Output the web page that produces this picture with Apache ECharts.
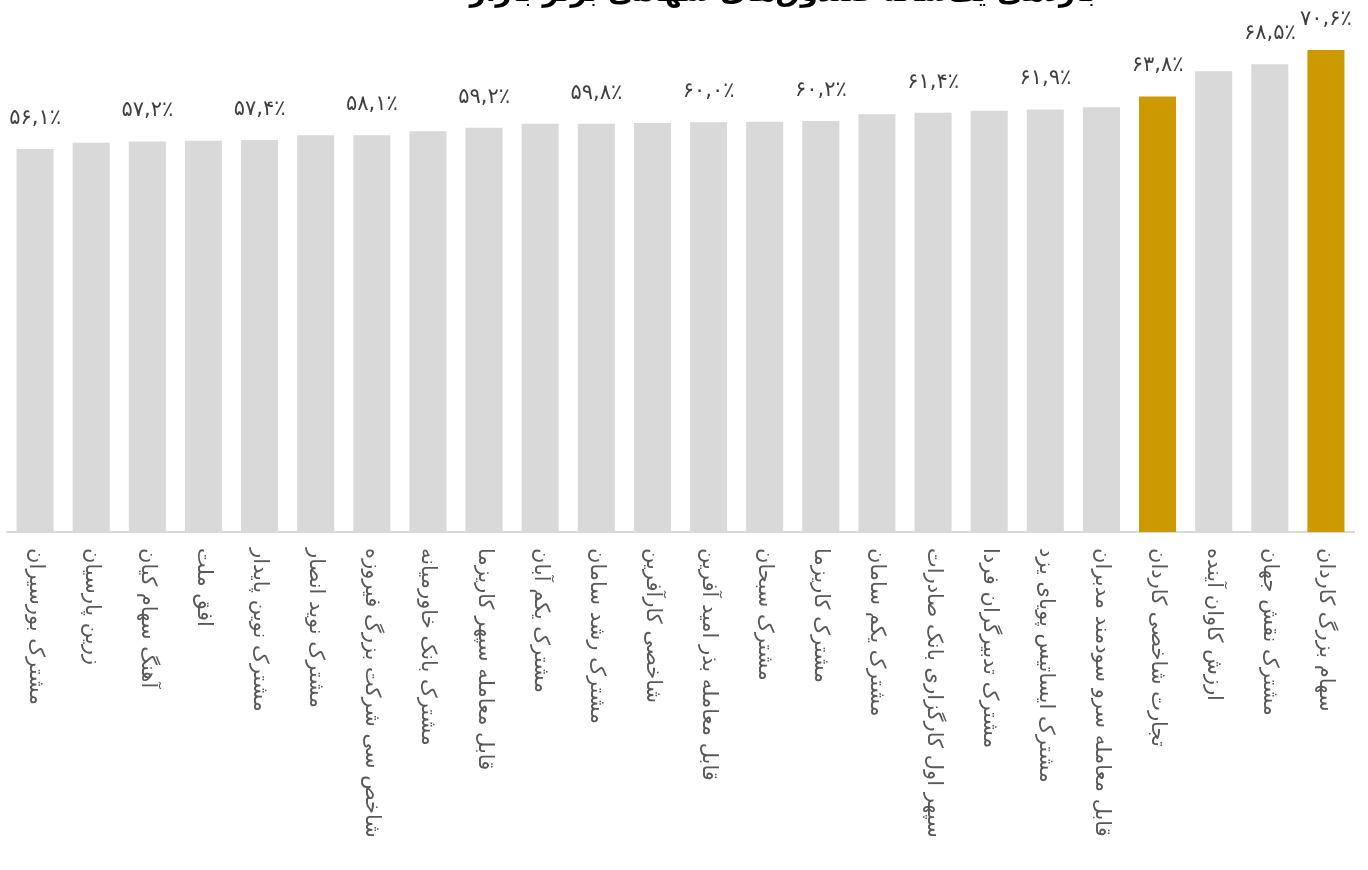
<!DOCTYPE html>
<html>
<head>
<meta charset="utf-8">
<script src="https://cdn.jsdelivr.net/npm/echarts@6/dist/echarts.min.js"></script>
<style>html,body{margin:0;padding:0;background:#fff}#c{width:1368px;height:870px}</style>
</head>
<body>
<div id="c"></div>
<script>
const titleText = "بازدهی یک‌ساله صندوق‌های سهامی برتر بازار";
const categories = [
  "مشترک بورسیران","زرین پارسیان","آهنگ سهام کیان","افق ملت","مشترک نوین پایدار",
  "مشترک نوید انصار","شاخص سی شرکت بزرگ فیروزه","مشترک بانک خاورمیانه","قابل معامله سپهر کاریزما","مشترک یکم آبان",
  "مشترک رشد سامان","شاخصی کارآفرین","قابل معامله بذر امید آفرین","مشترک سبحان","مشترک کاریزما",
  "مشترک یکم سامان","سپهر اول کارگزاری بانک صادرات","مشترک تدبیرگران فردا","مشترک ایساتیس پویای یزد","قابل معامله سرو سودمند مدبران",
  "تجارت شاخصی کاردان","ارزش کاوان آینده","مشترک نقش جهان","سهام بزرگ کاردان"
];
const values = [56.1,57.0,57.2,57.3,57.4,58.1,58.1,58.7,59.2,59.8,59.8,59.9,60.0,60.1,60.2,61.2,61.4,61.7,61.9,62.2,63.8,67.5,68.5,70.6];
const highlighted = [20, 23];
const labeledIdx = [0,2,4,6,8,10,12,14,16,18,20,22,23];

const faDigits = "۰۱۲۳۴۵۶۷۸۹";
function toFa(v){
  return v.toFixed(1).replace(/\d/g, d => faDigits[+d]).replace(".", ",") + "٪";
}

const chart = echarts.init(document.getElementById('c'));
chart.setOption({
  animation: false,
  title: {
    text: titleText,
    left: 778, top: -25, textAlign: 'center',
    textStyle: {fontFamily: 'DejaVu Sans', fontSize: 28, fontWeight: 'bold', color: '#000'}
  },
  grid: {left: 7, right: 14, top: 50, bottom: 338},
  xAxis: {
    type: 'category',
    data: categories,
    axisLine: {lineStyle: {color: '#D9D9D9', width: 2}},
    axisTick: {show: false},
    axisLabel: {
      rotate: -90, interval: 0, margin: 16,
      fontFamily: 'DejaVu Sans', fontSize: 21, color: '#595959'
    }
  },
  yAxis: {type: 'value', min: 0, max: 'dataMax', show: false, splitLine: {show: false}},
  series: [{
    type: 'bar',
    barCategoryGap: '34%',
    data: values.map((v, i) => ({
      value: v,
      itemStyle: {color: highlighted.includes(i) ? '#CC9900' : '#D9D9D9'},
      label: {show: labeledIdx.includes(i)}
    })),
    label: {
      position: 'top', distance: 20,
      fontFamily: 'DejaVu Sans', fontSize: 21, color: '#404040',
      formatter: p => toFa(p.value)
    }
  }]
});
</script>
</body>
</html>
